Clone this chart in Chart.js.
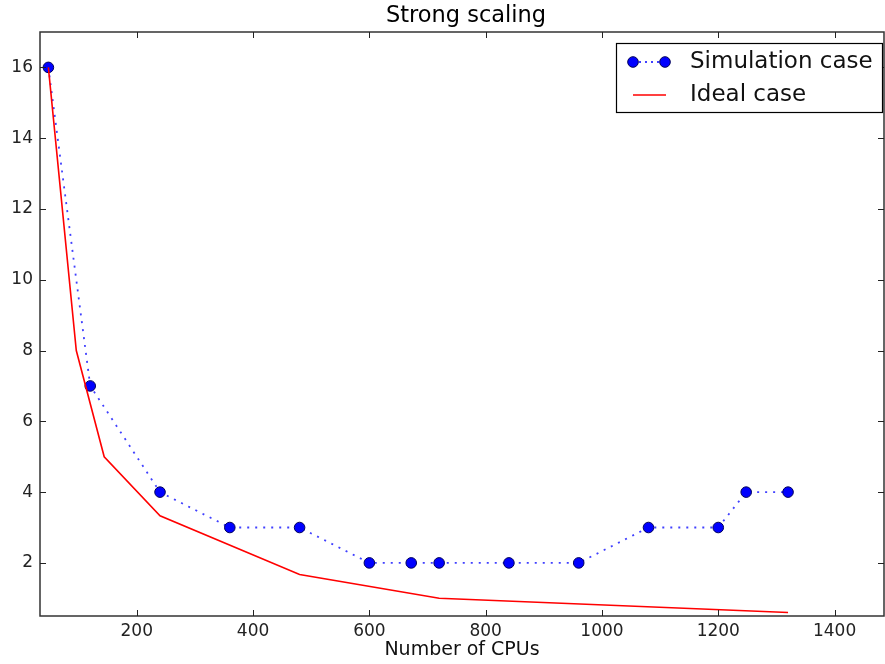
<!DOCTYPE html>
<html>
<head>
<meta charset="utf-8">
<script src="https://cdn.jsdelivr.net/npm/chart.js@4/dist/chart.umd.min.js"></script>
<style>
  html, body { margin: 0; padding: 0; background: #fff; }
  #wrap { width: 885px; height: 664px; }
</style>
</head>
<body>
<div id="wrap"><canvas id="scaling" width="885" height="664"></canvas></div>
<script>
// strong scaling plot: measured runtime vs ideal 1/N curve

const simCpus = [48, 120, 240, 360, 480, 600, 672, 720, 840, 960, 1080, 1200, 1248, 1320];
const simTime = [16, 7, 4, 3, 3, 2, 2, 2, 2, 2, 3, 3, 4, 4];

const idealCpus = [48, 96, 144, 240, 480, 720, 1320];
const idealTime = [16, 8, 5, 3.33, 1.67, 1, 0.6];

const xTicks = [200, 400, 600, 800, 1000, 1200, 1400];
const yTicks = [2, 4, 6, 8, 10, 12, 14, 16];

const FONT = "'DejaVu Sans', sans-serif";
const SIM_LINE = 'rgba(30,30,255,0.85)';

function toPoints(xs, ys) {
  return xs.map((x, i) => ({ x, y: ys[i] }));
}

// matplotlib style frame: box on all four sides + inward ticks, title over the axes
const framePlugin = {
  id: 'frame',
  afterDatasetsDraw(chart) {
    const { ctx, chartArea: a, scales } = chart;
    ctx.save();
    ctx.strokeStyle = '#333';
    ctx.lineWidth = 1.5;
    ctx.strokeRect(a.left, a.top, a.right - a.left, a.bottom - a.top);
    ctx.lineWidth = 1;
    ctx.strokeStyle = '#222';
    const len = 6;
    ctx.beginPath();
    xTicks.forEach(v => {
      const px = Math.round(scales.x.getPixelForValue(v)) + 0.5;
      ctx.moveTo(px, a.bottom); ctx.lineTo(px, a.bottom - len);
      ctx.moveTo(px, a.top); ctx.lineTo(px, a.top + len);
    });
    yTicks.forEach(v => {
      const py = Math.round(scales.y.getPixelForValue(v)) + 0.5;
      ctx.moveTo(a.left, py); ctx.lineTo(a.left + len, py);
      ctx.moveTo(a.right, py); ctx.lineTo(a.right - len, py);
    });
    ctx.stroke();

    ctx.fillStyle = '#000';
    ctx.font = '22.5px ' + FONT;
    ctx.textAlign = 'center';
    ctx.textBaseline = 'middle';
    ctx.fillText('Strong scaling', (a.left + a.right) / 2 + 4, 16);
    ctx.restore();
  }
};

// boxed legend in the upper right corner
const legendBox = {
  id: 'legendBox',
  afterDraw(chart) {
    const { ctx, chartArea: a } = chart;
    const w = 266, h = 69;
    const x0 = a.right - 2 - w, y0 = a.top + 11;
    ctx.save();
    ctx.fillStyle = '#fff';
    ctx.fillRect(x0, y0, w, h);
    ctx.strokeStyle = '#000';
    ctx.lineWidth = 1.2;
    ctx.strokeRect(x0 + 0.5, y0 + 0.5, w, h);

    // simulation entry
    const y1 = y0 + 19;
    ctx.strokeStyle = SIM_LINE;
    ctx.lineWidth = 1.8;
    ctx.setLineDash([2, 4]);
    ctx.beginPath();
    ctx.moveTo(x0 + 17, y1); ctx.lineTo(x0 + 49, y1);
    ctx.stroke();
    ctx.setLineDash([]);
    [x0 + 17, x0 + 49].forEach(cx => {
      ctx.beginPath();
      ctx.arc(cx, y1, 5.3, 0, Math.PI * 2);
      ctx.fillStyle = '#0000ff';
      ctx.fill();
      ctx.strokeStyle = '#00005a';
      ctx.lineWidth = 1;
      ctx.stroke();
    });

    // ideal entry
    const y2 = y0 + 52;
    ctx.strokeStyle = '#ff0000';
    ctx.lineWidth = 1.6;
    ctx.beginPath();
    ctx.moveTo(x0 + 17, y2); ctx.lineTo(x0 + 50, y2);
    ctx.stroke();

    ctx.fillStyle = '#111';
    ctx.font = '23px ' + FONT;
    ctx.textBaseline = 'middle';
    ctx.fillText('Simulation case', x0 + 74, y1);
    ctx.fillText('Ideal case', x0 + 74, y2);
    ctx.restore();
  }
};

const ctx = document.getElementById('scaling').getContext('2d');
new Chart(ctx, {
  type: 'line',
  data: {
    datasets: [
      {
        label: 'Simulation case',
        data: toPoints(simCpus, simTime),
        borderColor: SIM_LINE,
        borderWidth: 1.8,
        borderDash: [2, 6],
        pointRadius: 5.3,
        pointBackgroundColor: '#0000ff',
        pointBorderColor: '#00005a',
        pointBorderWidth: 1,
        fill: false,
        tension: 0,
        order: 1
      },
      {
        label: 'Ideal case',
        data: toPoints(idealCpus, idealTime),
        borderColor: '#ff0000',
        borderWidth: 1.6,
        pointRadius: 0,
        fill: false,
        tension: 0,
        order: 0
      }
    ]
  },
  options: {
    responsive: false,
    animation: false,
    layout: { autoPadding: false, padding: { left: 0, right: 1, top: 32, bottom: 0 } },
    plugins: {
      legend: { display: false },
      tooltip: { enabled: false },
      title: { display: false }
    },
    scales: {
      x: {
        type: 'linear',
        min: 33.6,
        max: 1485,
        grid: { display: false, drawTicks: false },
        border: { display: false },
        afterBuildTicks: s => { s.ticks = xTicks.map(v => ({ value: v })); },
        afterFit: s => { s.height = 48; s.paddingLeft = 0; s.paddingRight = 0; },
        ticks: {
          color: '#222',
          padding: 5,
          maxRotation: 0,
          callback: v => String(v),
          font: { family: FONT, size: 17 }
        },
        title: {
          display: true,
          text: 'Number of CPUs',
          color: '#111',
          font: { family: FONT, size: 19 },
          padding: { top: 0, bottom: 3 }
        }
      },
      y: {
        type: 'linear',
        min: 0.5,
        max: 17,
        grid: { display: false, drawTicks: false },
        border: { display: false },
        afterBuildTicks: s => { s.ticks = yTicks.map(v => ({ value: v })); },
        afterFit: s => { s.width = 40; s.paddingTop = 0; s.paddingBottom = 0; },
        ticks: {
          color: '#222',
          padding: 7,
          callback: v => String(v),
          font: { family: FONT, size: 17 }
        }
      }
    }
  },
  plugins: [framePlugin, legendBox]
});
</script>
</body>
</html>
